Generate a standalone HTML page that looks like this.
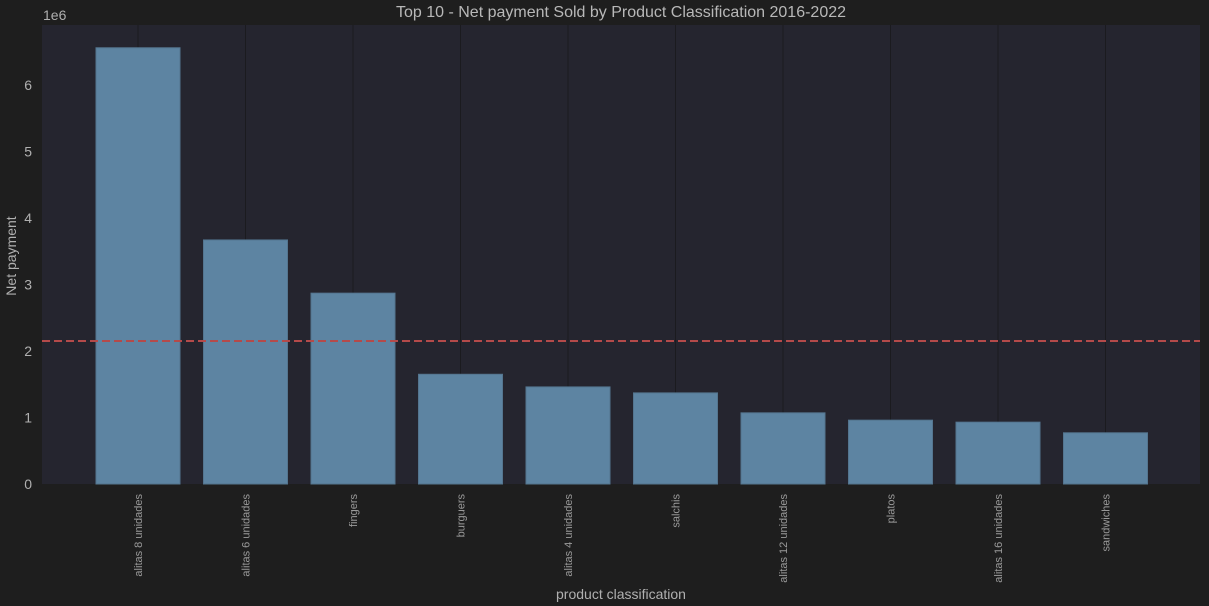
<!DOCTYPE html>
<html><head><meta charset="utf-8"><style>
html,body{margin:0;padding:0;background:#1e1e1e;}
svg{display:block;font-family:"Liberation Sans",sans-serif;}
</style></head><body>
<svg id="chart" width="1209" height="606" viewBox="0 0 1209 606"></svg>
<script>
const categories=["alitas 8 unidades","alitas 6 unidades","fingers","burguers","alitas 4 unidades","salchis","alitas 12 unidades","platos","alitas 16 unidades","sandwiches"];
const values=[6.56,3.67,2.87,1.65,1.46,1.37,1.07,0.96,0.93,0.77];
const meanValue=2.15;
const yTicks=[0,1,2,3,4,5,6];
const NS="http://www.w3.org/2000/svg";
const svg=document.getElementById('chart');
const L=42,R=1200,T=25,B=484,yMax=(B-T)/66.5;
const y=v=>B-v*66.5;
const step=(R-L)/10.77;
const x0=L+(138-L);
const xc=i=>x0+i*107.5;
function mk(tag,attrs,parent){const e=document.createElementNS(NS,tag);for(const k in attrs)e.setAttribute(k,attrs[k]);(parent||svg).appendChild(e);return e;}
const bg=mk('rect',{x:L,y:T,width:R-L,height:B-T,fill:'#25252f'});


categories.forEach((c,i)=>{
  const g=mk('line',{x1:xc(i),x2:xc(i),y1:T,y2:B,stroke:'#1b1b1f','stroke-width':1});
  
  
});
categories.forEach((c,i)=>{
  const b=mk('rect',{x:xc(i)-42,y:y(values[i]),width:84,height:B-y(values[i]),fill:'#5d84a2',stroke:'#54758f','stroke-width':1});
  
  
  const t=mk('text',{x:0,y:0,transform:`translate(${xc(i)+4},494) rotate(-90)`,'text-anchor':'end',fill:'#9a9a9a','font-size':11});
  t.textContent=c;
  
  
});
yTicks.forEach(v=>{
  const t=mk('text',{x:32,y:y(v)+5,'text-anchor':'end',fill:'#b0b0b0','font-size':14});
  t.textContent=v;
  
  
});
const m=mk('line',{x1:L,x2:R,y1:y(meanValue),y2:y(meanValue),stroke:'#b44a4a','stroke-width':2,'stroke-dasharray':'8,4'});


const e6=mk('text',{x:43,y:20,fill:'#b0b0b0','font-size':14});
e6.textContent='1e6';


const ti=mk('text',{x:621,y:17,'text-anchor':'middle',fill:'#b8b8b8','font-size':16});
ti.textContent='Top 10 - Net payment Sold by Product Classification 2016-2022';


const yl=mk('text',{x:0,y:0,transform:'translate(16,256) rotate(-90)','text-anchor':'middle',fill:'#b0b0b0','font-size':14});
yl.textContent='Net payment';


const xl=mk('text',{x:621,y:599,'text-anchor':'middle',fill:'#b0b0b0','font-size':14});
xl.textContent='product classification';


</script>
</body></html>
